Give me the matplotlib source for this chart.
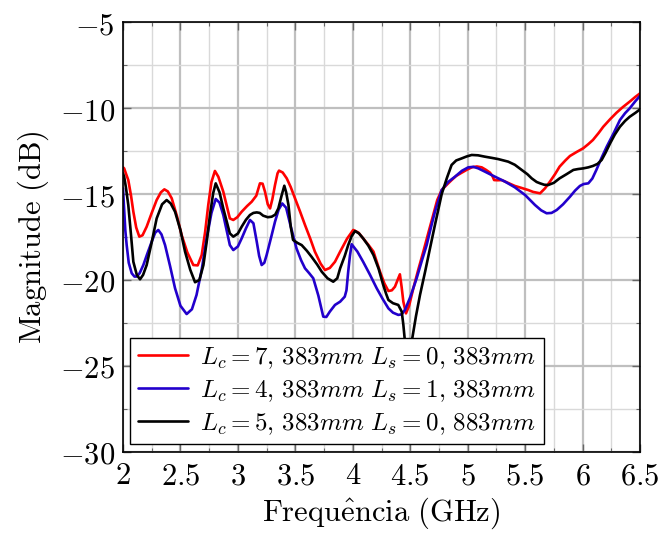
import matplotlib
matplotlib.use("Agg")
import matplotlib.pyplot as plt
from matplotlib.ticker import MultipleLocator, FuncFormatter

plt.rcParams['mathtext.fontset'] = 'cm'
plt.rcParams['font.family'] = ['DejaVu Serif']

# Frequency (GHz) and magnitude (dB)
f_red = [2.0, 2.01, 2.025, 2.046, 2.07, 2.09, 2.115, 2.142, 2.17, 2.206, 2.25, 2.293, 2.33, 2.36, 2.39,
         2.424, 2.47, 2.51, 2.56, 2.612, 2.65, 2.685, 2.715, 2.742, 2.77, 2.80, 2.83, 2.873, 2.93, 2.96, 2.995,
         3.033, 3.08, 3.12, 3.16, 3.192, 3.215, 3.236, 3.26, 3.28, 3.30, 3.323, 3.345, 3.358, 3.39, 3.425,
         3.46, 3.497, 3.54, 3.584, 3.63, 3.67, 3.72, 3.758, 3.80, 3.845, 3.89, 3.95, 4.004, 4.05, 4.09, 4.135,
         4.18, 4.237, 4.275, 4.31, 4.34, 4.367, 4.39, 4.41, 4.425, 4.44, 4.463, 4.49, 4.527, 4.57, 4.614,
         4.66, 4.70, 4.735, 4.774, 4.82, 4.86, 4.9, 4.948, 4.99, 5.035, 5.08, 5.122, 5.16, 5.194, 5.215, 5.23,
         5.26, 5.296, 5.35, 5.41, 5.47, 5.527, 5.57, 5.60, 5.63, 5.673, 5.716, 5.76, 5.80, 5.85, 5.89, 5.95,
         6.006, 6.05, 6.09, 6.14, 6.18, 6.24, 6.296, 6.35, 6.41, 6.46, 6.50]
m_red = [-13.45, -13.51, -13.8, -14.19, -15.1, -16.03, -16.95, -17.48, -17.4, -16.9, -16.1, -15.35, -14.9,
         -14.73, -14.85, -15.25, -16.3, -17.38, -18.4, -19.13, -19.15, -18.55, -17.2, -15.64, -14.3, -13.66,
         -14.0, -14.87, -16.42, -16.51, -16.35, -16.03, -15.7, -15.45, -15.1, -14.38, -14.4, -14.87, -15.6,
         -15.84, -15.3, -14.48, -13.8, -13.64, -13.75, -14.09, -14.6, -15.25, -16.0, -16.8, -17.6, -18.35,
         -19.05, -19.42, -19.3, -18.94, -18.35, -17.6, -17.09, -17.25, -17.58, -17.95, -18.35, -19.52,
         -20.2, -20.64, -20.6, -20.39, -20.0, -19.67, -20.4, -21.26, -21.94, -21.5, -20.48, -19.4, -18.35,
         -17.2, -16.22, -15.35, -14.77, -14.45, -14.19, -13.95, -13.76, -13.6, -13.45, -13.4, -13.45, -13.6,
         -13.76, -13.95, -14.19, -14.2, -14.19, -14.35, -14.53, -14.65, -14.77, -14.88, -14.92, -14.96,
         -14.67, -14.28, -13.85, -13.41, -13.05, -12.79, -12.55, -12.34, -12.1, -11.86, -11.45, -11.09,
         -10.65, -10.27, -9.95, -9.63, -9.35, -9.15]

f_blue = [2.0, 2.01, 2.02, 2.032, 2.05, 2.076, 2.1, 2.12, 2.145, 2.177, 2.21, 2.25, 2.28, 2.307, 2.335,
          2.366, 2.41, 2.453, 2.5, 2.554, 2.6, 2.64, 2.685, 2.728, 2.77, 2.807, 2.84, 2.873, 2.93, 2.96, 3.0,
          3.033, 3.07, 3.105, 3.135, 3.164, 3.185, 3.207, 3.23, 3.25, 3.29, 3.323, 3.355, 3.386, 3.42, 3.453,
          3.48, 3.51, 3.55, 3.584, 3.62, 3.656, 3.70, 3.743, 3.77, 3.80, 3.845, 3.89, 3.93, 3.945, 3.96, 3.975,
          3.99, 4.04, 4.09, 4.15, 4.208, 4.26, 4.31, 4.35, 4.396, 4.425, 4.454, 4.5, 4.556, 4.6, 4.643, 4.68,
          4.715, 4.774, 4.83, 4.89, 4.95, 5.005, 5.05, 5.092, 5.15, 5.209, 5.27, 5.325, 5.41, 5.50, 5.586,
          5.64, 5.687, 5.73, 5.775, 5.83, 5.89, 5.935, 5.977, 6.01, 6.05, 6.085, 6.12, 6.165, 6.21, 6.27,
          6.325, 6.37, 6.41, 6.46, 6.50]
m_blue = [-14.67, -15.9, -17.1, -17.97, -19.0, -19.61, -19.8, -19.8, -19.6, -19.13, -18.5, -17.77, -17.25,
          -17.09, -17.35, -17.97, -19.2, -20.48, -21.5, -21.98, -21.7, -20.87, -19.4, -17.58, -16.1, -15.29,
          -15.5, -16.22, -17.97, -18.26, -18.05, -17.58, -17.0, -16.51, -16.7, -17.77, -18.6, -19.13, -19.0,
          -18.55, -17.5, -16.61, -15.9, -15.55, -15.8, -16.7, -17.4, -18.16, -18.85, -19.32, -19.6, -19.9,
          -20.9, -22.13, -22.15, -21.84, -21.45, -21.26, -20.97, -20.6, -19.52, -18.6, -17.92, -18.35, -18.94,
          -19.7, -20.48, -21.1, -21.65, -21.9, -22.03, -22.0, -21.74, -21.0, -19.9, -18.9, -17.97, -16.95,
          -16.03, -14.77, -14.3, -13.99, -13.65, -13.45, -13.42, -13.51, -13.7, -13.9, -14.1, -14.28, -14.61,
          -15.06, -15.64, -15.95, -16.12, -16.1, -15.93, -15.6, -15.16, -14.8, -14.53, -14.42, -14.38, -14.1,
          -13.6, -12.9, -12.25, -11.47, -10.7, -10.3, -10.02, -9.6, -9.3]

f_black = [2.0, 2.01, 2.025, 2.046, 2.07, 2.09, 2.12, 2.148, 2.175, 2.206, 2.25, 2.293, 2.34, 2.38, 2.415,
           2.453, 2.5, 2.54, 2.585, 2.627, 2.665, 2.70, 2.73, 2.757, 2.785, 2.807, 2.84, 2.873, 2.93, 2.96,
           3.0, 3.033, 3.07, 3.105, 3.135, 3.164, 3.19, 3.22, 3.26, 3.294, 3.325, 3.352, 3.38, 3.404, 3.42,
           3.44, 3.46, 3.48, 3.52, 3.555, 3.6, 3.64, 3.69, 3.73, 3.78, 3.83, 3.865, 3.89, 3.93, 3.96, 3.99,
           4.02, 4.055, 4.09, 4.135, 4.18, 4.225, 4.265, 4.29, 4.31, 4.35, 4.396, 4.426, 4.44, 4.454, 4.466,
           4.476, 4.49, 4.513, 4.55, 4.585, 4.63, 4.672, 4.715, 4.774, 4.82, 4.86, 4.9, 4.948, 4.99, 5.035,
           5.09, 5.15, 5.21, 5.266, 5.353, 5.41, 5.47, 5.52, 5.557, 5.6, 5.63, 5.665, 5.70, 5.75, 5.80, 5.86,
           5.92, 5.96, 6.006, 6.05, 6.09, 6.13, 6.166, 6.2, 6.24, 6.28, 6.325, 6.37, 6.41, 6.46, 6.50]
m_black = [-13.8, -14.0, -14.6, -15.64, -17.4, -18.94, -19.7, -19.96, -19.7, -19.13, -17.8, -16.42, -15.6,
           -15.35, -15.55, -16.03, -17.1, -18.35, -19.4, -20.13, -20.0, -19.13, -17.7, -16.22, -14.95, -14.38,
           -14.9, -15.84, -17.29, -17.48, -17.3, -16.9, -16.5, -16.22, -16.1, -16.07, -16.1, -16.26, -16.35,
           -16.32, -16.2, -15.84, -15.1, -14.52, -14.9, -15.64, -16.9, -17.67, -17.85, -17.97, -18.3, -18.64,
           -19.1, -19.52, -19.9, -20.1, -19.9, -19.32, -18.6, -17.97, -17.45, -17.15, -17.3, -17.58, -18.0,
           -18.55, -19.35, -20.29, -20.8, -21.16, -21.35, -21.45, -21.84, -22.6, -23.58, -24.4, -25.0, -24.6,
           -23.58, -22.1, -20.87, -19.5, -18.16, -16.8, -15.0, -14.05, -13.31, -13.05, -12.93, -12.82, -12.73,
           -12.75, -12.83, -12.9, -12.97, -13.12, -13.3, -13.6, -13.85, -14.09, -14.3, -14.38, -14.46, -14.48,
           -14.35, -14.09, -13.85, -13.6, -13.55, -13.51, -13.45, -13.37, -13.25, -13.02, -12.6, -12.05,
           -11.55, -11.09, -10.75, -10.51, -10.28, -10.08]

labels = [r'$L_c = 7,\,383mm\ L_s = 0,\,383mm$',
          r'$L_c = 4,\,383mm\ L_s = 1,\,383mm$',
          r'$L_c = 5,\,383mm\ L_s = 0,\,883mm$']
colors = ['#ff0000', '#2200cc', '#000000']

fig = plt.figure(figsize=(6.62, 5.33), dpi=100)
ax = fig.add_axes([0.1858, 0.152, 0.781, 0.8067])

for f, m, lab, c in zip([f_red, f_blue, f_black], [m_red, m_blue, m_black], labels, colors):
    ax.plot(f, m, color=c, lw=1.9, label=lab, solid_joinstyle='round', solid_capstyle='round')

ax.set_xlim(2, 6.5)
ax.set_ylim(-30, -5)
ax.xaxis.set_major_locator(MultipleLocator(0.5))
ax.xaxis.set_minor_locator(MultipleLocator(0.25))
ax.yaxis.set_major_locator(MultipleLocator(5))
ax.yaxis.set_minor_locator(MultipleLocator(2.5))

def xfmt(v, p):
    return r'$%g$' % v
def yfmt(v, p):
    return r'$%s$' % ('-%g' % abs(v) if v < 0 else '%g' % v)
ax.xaxis.set_major_formatter(FuncFormatter(xfmt))
ax.yaxis.set_major_formatter(FuncFormatter(yfmt))

ax.grid(which='major', color='#bfbfbf', lw=1.6)
ax.grid(which='minor', color='#d9d9d9', lw=1.0)
ax.set_axisbelow(True)
ax.tick_params(which='both', direction='in', top=True, right=True, color='#666666')
ax.tick_params(which='major', length=6, width=1.0, labelsize=22, pad=6)
ax.tick_params(which='minor', length=3, width=0.8)
for s in ax.spines.values():
    s.set_linewidth(1.2)

ax.set_xlabel(r'$\mathrm{Frequ\hat{e}ncia\ (GHz)}$', fontsize=22, labelpad=3)
ax.set_ylabel(r'$\mathrm{Magnitude\ (dB)}$', fontsize=22, labelpad=6)

leg = ax.legend(loc='lower left', fontsize=18, frameon=True, fancybox=False, edgecolor='black',
                framealpha=1.0, borderaxespad=0.3, handlelength=2.0, labelspacing=0.3,
                borderpad=0.3, handletextpad=0.5)
leg.get_frame().set_linewidth(1.0)

fig.savefig('out.png', dpi=100)
